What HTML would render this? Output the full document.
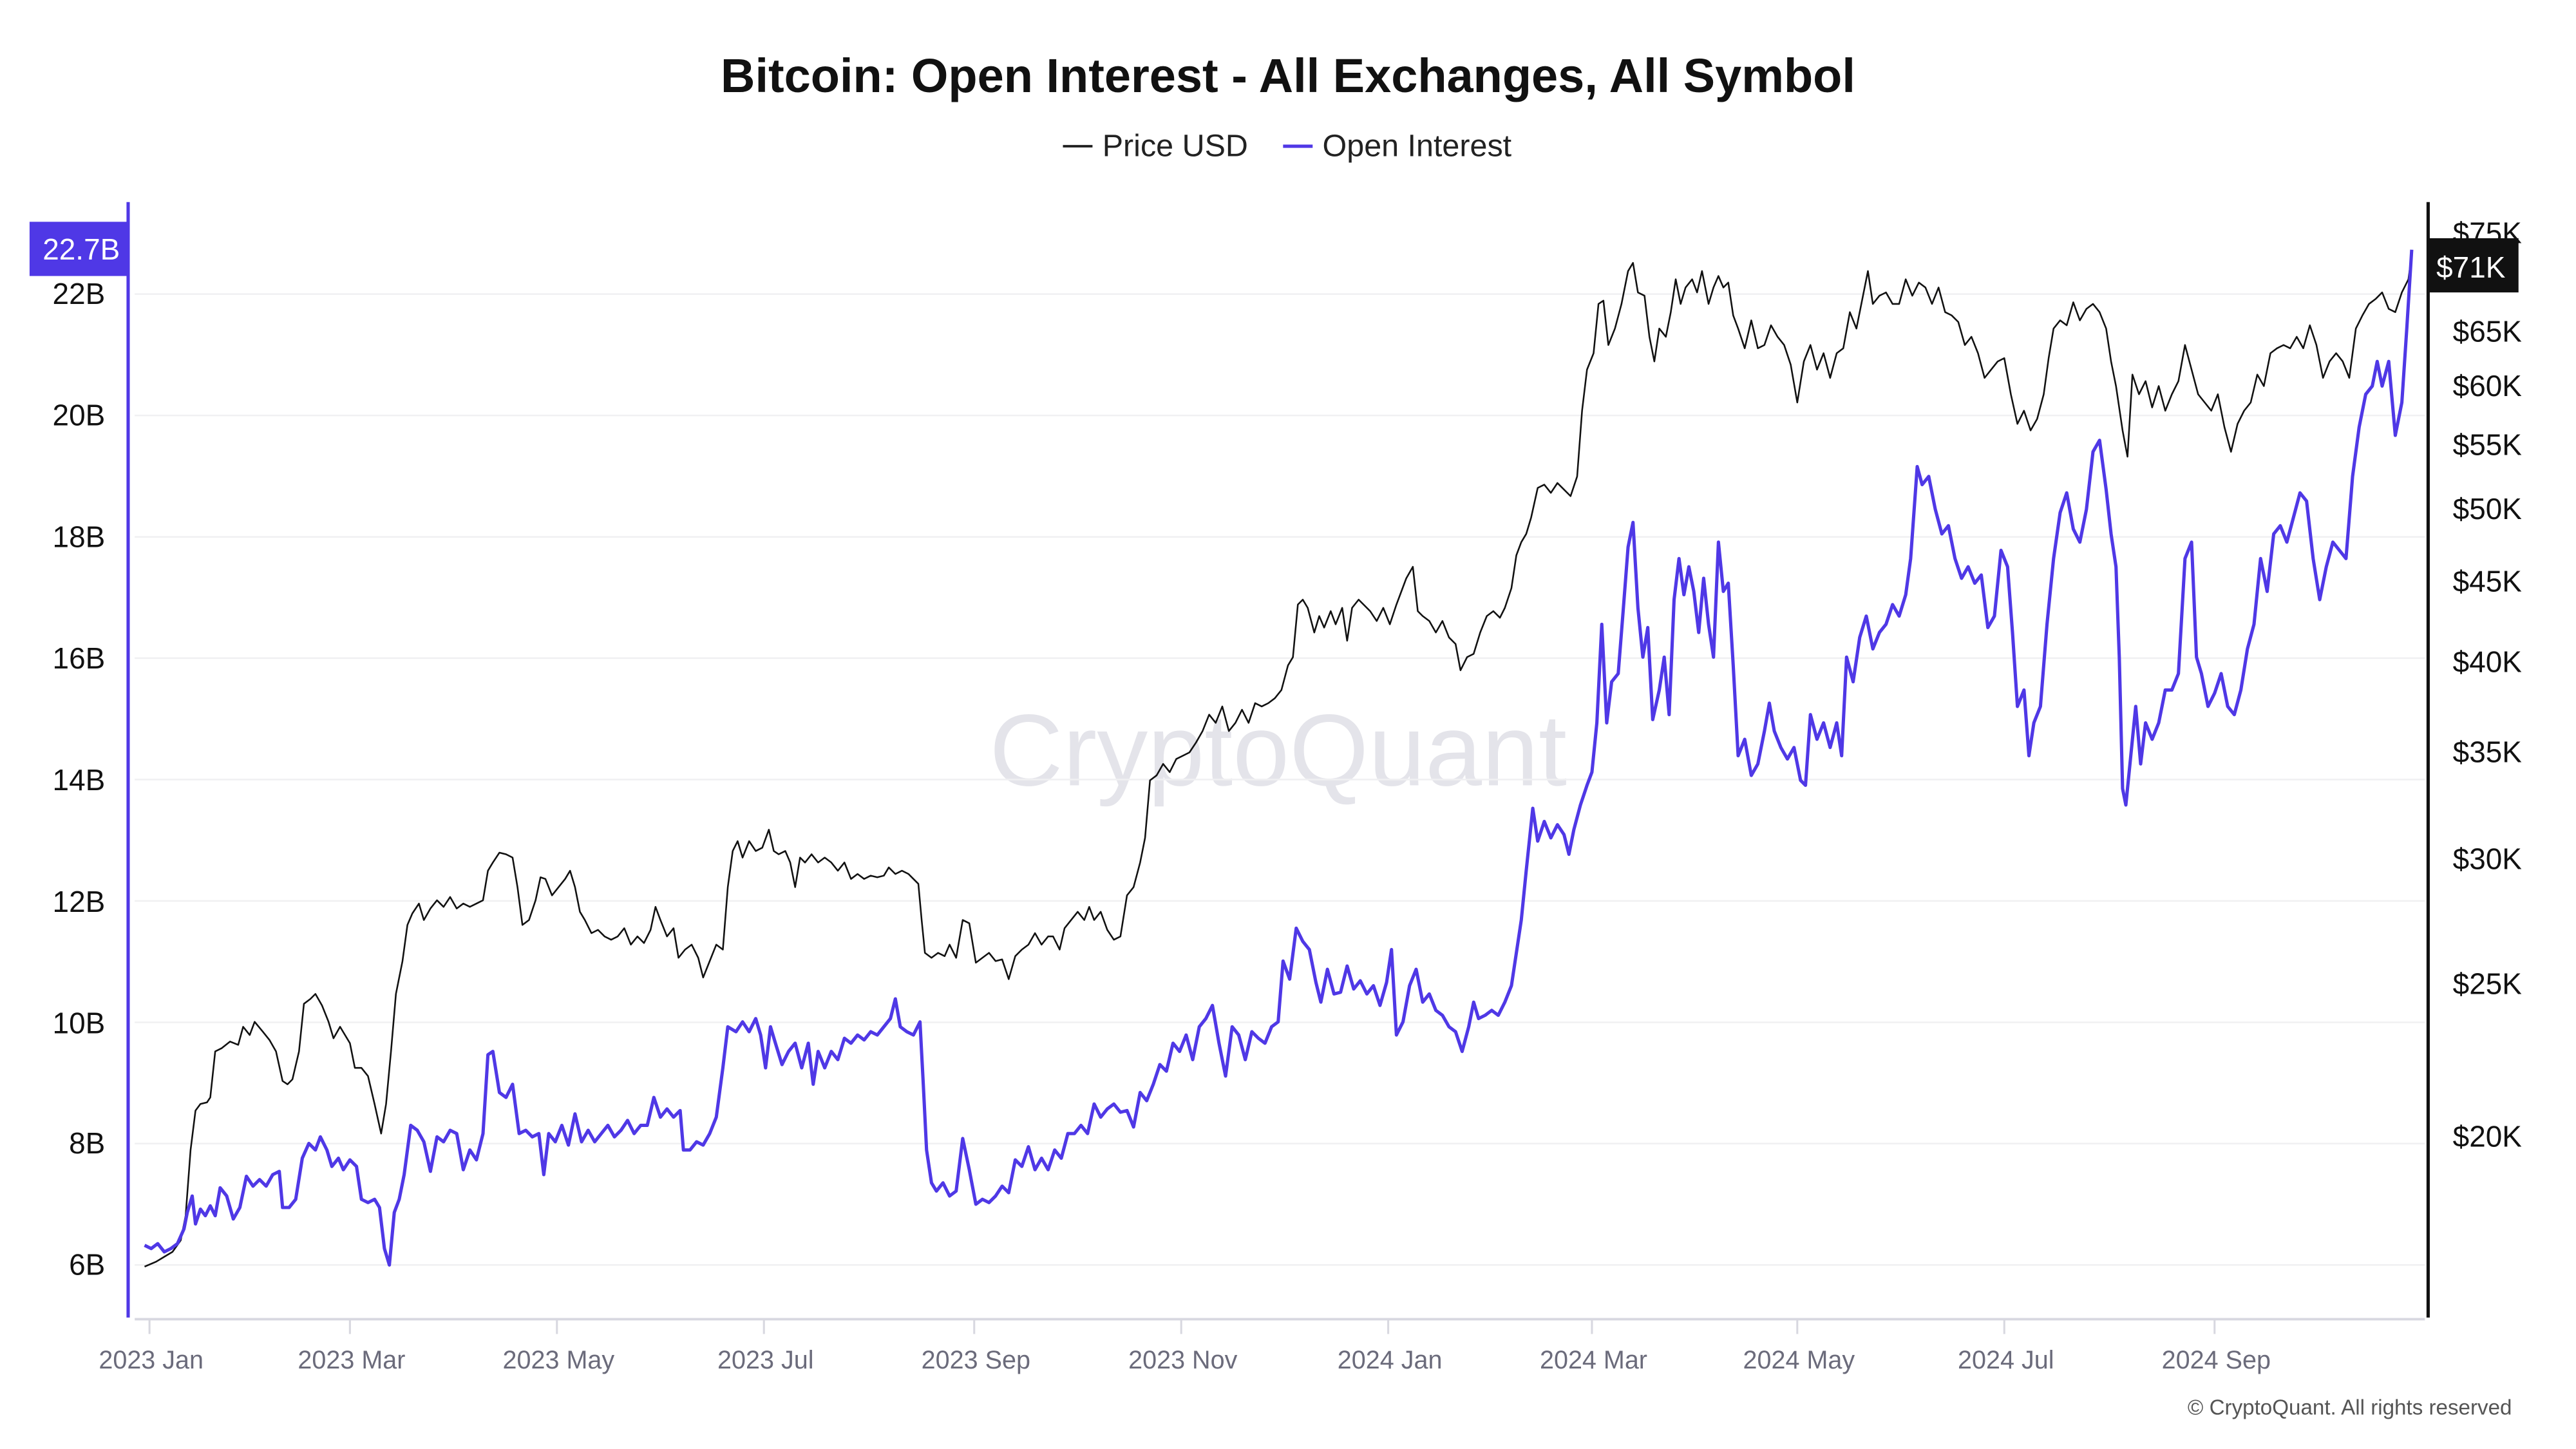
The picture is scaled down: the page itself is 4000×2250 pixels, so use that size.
<!DOCTYPE html>
<html><head><meta charset="utf-8"><style>html,body{margin:0;padding:0;background:#fff}svg{display:block}</style></head>
<body>
<svg width="4000" height="2250" viewBox="0 0 1568 882" preserveAspectRatio="none" xmlns="http://www.w3.org/2000/svg" font-family="Liberation Sans, sans-serif">
<rect width="1568" height="882" fill="#fff"/>
<text x="784" y="56" text-anchor="middle" font-size="29" font-weight="bold" fill="#111">Bitcoin: Open Interest - All Exchanges, All Symbol</text>
<line x1="647" y1="89" x2="665" y2="89" stroke="#222" stroke-width="1.5"/>
<text x="671" y="95" font-size="19" fill="#222">Price USD</text>
<line x1="781" y1="89" x2="799" y2="89" stroke="#4f38e6" stroke-width="2"/>
<text x="805" y="95" font-size="19" fill="#222">Open Interest</text>
<text x="778" y="478" text-anchor="middle" font-size="62" fill="#e4e4ea">CryptoQuant</text>
<g stroke="#f0f0f2" stroke-width="1">
<line x1="82" x2="1476" y1="179" y2="179"/><line x1="82" x2="1476" y1="252.9" y2="252.9"/><line x1="82" x2="1476" y1="326.8" y2="326.8"/><line x1="82" x2="1476" y1="400.6" y2="400.6"/><line x1="82" x2="1476" y1="474.5" y2="474.5"/><line x1="82" x2="1476" y1="548.4" y2="548.4"/><line x1="82" x2="1476" y1="622.3" y2="622.3"/><line x1="82" x2="1476" y1="696.1" y2="696.1"/><line x1="82" x2="1476" y1="770" y2="770"/>
</g>
<g font-size="18" fill="#111" text-anchor="end">
<text x="64" y="185">22B</text><text x="64" y="259">20B</text><text x="64" y="333">18B</text><text x="64" y="407">16B</text><text x="64" y="481">14B</text><text x="64" y="555">12B</text><text x="64" y="629">10B</text><text x="64" y="702">8B</text><text x="64" y="776">6B</text>
</g>
<g font-size="18" fill="#111">
<text x="1493" y="148">$75K</text><text x="1493" y="208">$65K</text><text x="1493" y="241">$60K</text><text x="1493" y="277">$55K</text><text x="1493" y="316">$50K</text><text x="1493" y="360">$45K</text><text x="1493" y="409">$40K</text><text x="1493" y="464">$35K</text><text x="1493" y="529">$30K</text><text x="1493" y="605">$25K</text><text x="1493" y="698">$20K</text>
</g>
<line x1="82" y1="803" x2="1476" y2="803" stroke="#d8d8e0" stroke-width="1.5"/>
<g stroke="#d8d8e0" stroke-width="1.2">
<line x1="91" x2="91" y1="803" y2="812"/><line x1="213" x2="213" y1="803" y2="812"/><line x1="339" x2="339" y1="803" y2="812"/><line x1="465" x2="465" y1="803" y2="812"/><line x1="593" x2="593" y1="803" y2="812"/><line x1="719" x2="719" y1="803" y2="812"/><line x1="845" x2="845" y1="803" y2="812"/><line x1="969" x2="969" y1="803" y2="812"/><line x1="1094" x2="1094" y1="803" y2="812"/><line x1="1220" x2="1220" y1="803" y2="812"/><line x1="1348" x2="1348" y1="803" y2="812"/>
</g>
<g font-size="15.5" fill="#6b6b7b" text-anchor="middle">
<text x="92" y="833">2023 Jan</text><text x="214" y="833">2023 Mar</text><text x="340" y="833">2023 May</text><text x="466" y="833">2023 Jul</text><text x="594" y="833">2023 Sep</text><text x="720" y="833">2023 Nov</text><text x="846" y="833">2024 Jan</text><text x="970" y="833">2024 Mar</text><text x="1095" y="833">2024 May</text><text x="1221" y="833">2024 Jul</text><text x="1349" y="833">2024 Sep</text>
</g>
<text x="1529" y="861" text-anchor="end" font-size="13" fill="#555">© CryptoQuant. All rights reserved</text>
<polyline fill="none" stroke="#111" stroke-width="1" stroke-linejoin="round" points="88,771 95,768 100,765 105,762 110,755 113,740 116,700 119,676 122,672 126,671 128,668 131,640 135,638 140,634 145,636 148,625 152,630 155,622 160,628 164,633 168,640 172,658 175,660 178,657 182,640 185,611 189,608 192,605 196,612 200,622 203,632 207,625 210,630 213,635 216,650 220,650 224,655 228,672 232,690 235,672 238,640 241,605 245,585 248,563 251,556 255,550 258,560 262,553 266,548 270,552 274,546 278,553 282,550 286,552 290,550 294,548 297,530 300,525 304,519 308,520 312,522 315,540 318,563 322,560 326,548 329,534 332,535 336,545 340,540 344,535 347,530 350,540 353,555 356,560 360,568 364,566 368,570 372,572 376,570 380,565 384,575 388,570 392,574 396,566 399,552 402,560 406,570 410,565 413,583 417,578 421,575 425,583 428,595 432,585 436,575 440,578 443,540 446,518 449,512 452,522 456,512 460,518 464,516 468,505 471,518 474,520 478,518 481,525 484,540 487,522 490,525 494,520 498,525 502,522 506,525 510,530 514,525 518,535 522,532 526,535 530,533 534,534 538,533 541,528 545,532 549,530 553,532 556,535 559,538 561,560 563,580 567,583 571,580 575,582 578,575 582,583 586,560 590,562 594,586 598,583 602,580 606,585 610,584 614,596 618,582 622,578 626,575 630,568 634,575 638,570 641,570 645,578 648,565 652,560 656,555 660,560 663,552 666,560 670,555 674,566 678,572 682,570 686,545 690,540 694,525 697,510 700,475 704,472 708,465 712,470 716,462 720,460 724,458 728,452 732,445 736,435 740,440 744,430 748,445 752,440 756,432 760,440 764,428 768,430 772,428 776,425 780,420 784,405 787,400 790,368 793,365 796,370 800,385 803,375 806,382 810,372 813,380 817,370 820,390 823,370 827,365 830,368 834,372 838,378 842,370 846,380 850,368 853,360 856,352 860,345 863,372 866,375 870,378 874,385 878,378 882,388 886,392 889,408 893,400 897,398 901,385 905,375 909,372 913,376 916,370 920,358 923,338 926,330 929,325 932,315 936,297 940,295 944,300 948,294 952,298 956,302 960,290 963,250 966,225 970,215 973,185 976,183 979,210 983,200 987,185 991,165 994,160 997,178 1001,180 1004,205 1007,220 1010,200 1014,205 1017,190 1020,170 1023,185 1026,175 1030,170 1033,178 1036,165 1040,185 1043,175 1046,168 1049,175 1052,172 1055,192 1058,200 1062,212 1066,195 1070,212 1074,210 1078,198 1082,205 1086,210 1090,222 1094,245 1098,220 1102,210 1106,225 1110,215 1114,230 1118,215 1122,212 1126,190 1130,200 1134,180 1137,165 1140,185 1144,180 1148,178 1152,185 1156,185 1160,170 1164,180 1168,172 1172,175 1176,185 1180,175 1184,190 1188,192 1192,196 1196,210 1200,205 1204,215 1208,230 1212,225 1216,220 1220,218 1224,240 1228,258 1232,250 1236,262 1240,255 1244,240 1247,218 1250,200 1254,195 1258,198 1262,184 1266,195 1270,188 1274,185 1278,190 1282,200 1285,220 1288,235 1292,262 1295,278 1298,228 1302,240 1306,232 1310,248 1314,235 1318,250 1322,240 1326,232 1330,210 1334,225 1338,240 1342,245 1346,250 1350,240 1354,260 1358,275 1362,258 1366,250 1370,245 1374,228 1378,235 1382,215 1386,212 1390,210 1394,212 1398,205 1402,212 1406,198 1410,210 1414,230 1418,220 1422,215 1426,220 1430,230 1434,200 1438,192 1442,185 1446,182 1450,178 1454,188 1458,190 1462,178 1466,170 1468,155"/>
<polyline fill="none" stroke="#4f38e6" stroke-width="2" stroke-linejoin="round" points="88,758 92,760 96,757 100,762 104,760 108,757 112,748 114,738 117,728 119,745 122,736 125,740 128,734 131,740 134,723 138,728 142,742 146,735 150,716 154,722 158,718 162,722 166,715 170,713 172,735 176,735 180,730 184,705 188,696 192,700 195,692 199,700 202,710 206,705 209,712 213,706 217,710 220,730 224,732 228,730 231,735 234,760 237,770 240,738 243,730 246,715 250,685 254,688 258,695 262,713 266,692 270,695 274,688 278,690 282,712 286,700 290,706 294,690 297,642 300,640 304,665 308,668 312,660 316,690 320,688 324,692 328,690 331,715 334,690 338,695 342,685 346,697 350,678 354,695 358,688 362,695 366,690 370,685 374,692 378,688 382,682 386,690 390,685 394,685 398,668 402,680 406,675 410,680 414,676 416,700 420,700 424,695 428,697 432,690 436,680 440,650 443,625 448,628 452,622 456,628 460,620 463,630 466,650 469,625 472,635 476,648 480,640 484,635 488,650 492,635 495,660 498,640 502,650 506,640 510,645 514,632 518,635 522,630 526,633 530,628 534,630 538,625 542,620 545,608 548,625 552,628 556,630 560,622 562,660 564,700 567,720 570,725 574,720 578,728 582,725 586,693 590,712 594,733 598,730 602,732 606,728 610,722 614,726 618,706 622,710 626,698 630,712 634,705 638,712 642,700 646,705 650,690 654,690 658,685 662,690 666,672 670,680 674,675 678,672 682,677 686,676 690,686 694,665 698,670 702,660 706,648 710,652 714,635 718,640 722,630 726,645 730,625 734,620 738,612 742,635 746,655 750,625 754,630 758,645 762,628 766,632 770,635 774,625 778,622 781,585 785,596 789,565 793,573 797,578 801,598 804,610 808,590 812,605 816,604 820,588 824,602 828,597 832,605 836,600 840,612 844,598 847,578 850,630 854,622 858,600 862,590 866,610 870,605 874,615 878,618 882,625 886,628 890,640 894,625 897,610 900,620 904,618 908,615 912,618 916,610 920,600 923,580 926,560 929,530 933,492 936,512 940,500 944,510 948,502 952,508 955,520 958,505 962,490 966,478 969,470 972,440 975,380 978,440 981,415 985,410 988,372 991,333 994,318 997,370 1000,400 1003,382 1006,438 1010,420 1013,400 1016,435 1019,365 1022,340 1025,362 1028,345 1031,360 1034,385 1037,352 1040,380 1043,400 1046,330 1049,360 1052,355 1055,405 1058,460 1062,450 1066,472 1070,465 1074,445 1077,428 1080,445 1084,455 1088,462 1092,455 1096,475 1099,478 1102,435 1106,450 1110,440 1114,455 1118,440 1121,460 1124,400 1128,415 1132,388 1136,375 1140,395 1144,385 1148,380 1152,368 1156,375 1160,362 1163,340 1167,284 1170,295 1174,290 1178,310 1182,325 1186,320 1190,340 1194,352 1198,345 1202,355 1206,350 1210,382 1214,375 1218,335 1222,345 1225,385 1228,430 1232,420 1235,460 1238,440 1242,430 1246,380 1250,340 1254,312 1258,300 1262,322 1266,330 1270,310 1274,275 1278,268 1282,298 1285,325 1288,345 1290,400 1292,480 1294,490 1297,460 1300,430 1303,465 1306,440 1310,450 1314,440 1318,420 1322,420 1326,410 1330,340 1334,330 1337,400 1340,410 1344,430 1348,422 1352,410 1356,430 1360,435 1364,420 1368,395 1372,380 1376,340 1380,360 1384,325 1388,320 1392,330 1396,315 1400,300 1404,305 1408,340 1412,365 1416,345 1420,330 1424,335 1428,340 1432,290 1436,260 1440,240 1444,235 1447,220 1450,235 1454,220 1458,265 1462,245 1465,200 1468,152"/>
<line x1="78" y1="123" x2="78" y2="802" stroke="#4f38e6" stroke-width="2"/>
<line x1="1478" y1="123" x2="1478" y2="802" stroke="#111" stroke-width="2"/>
<rect x="18" y="135" width="60" height="33" fill="#4f38e6"/>
<text x="73" y="158" text-anchor="end" font-size="18" fill="#fff">22.7B</text>
<rect x="1478" y="145" width="55" height="33" fill="#111"/>
<text x="1483" y="169" font-size="18" fill="#fff">$71K</text>
</svg>
</body></html>
